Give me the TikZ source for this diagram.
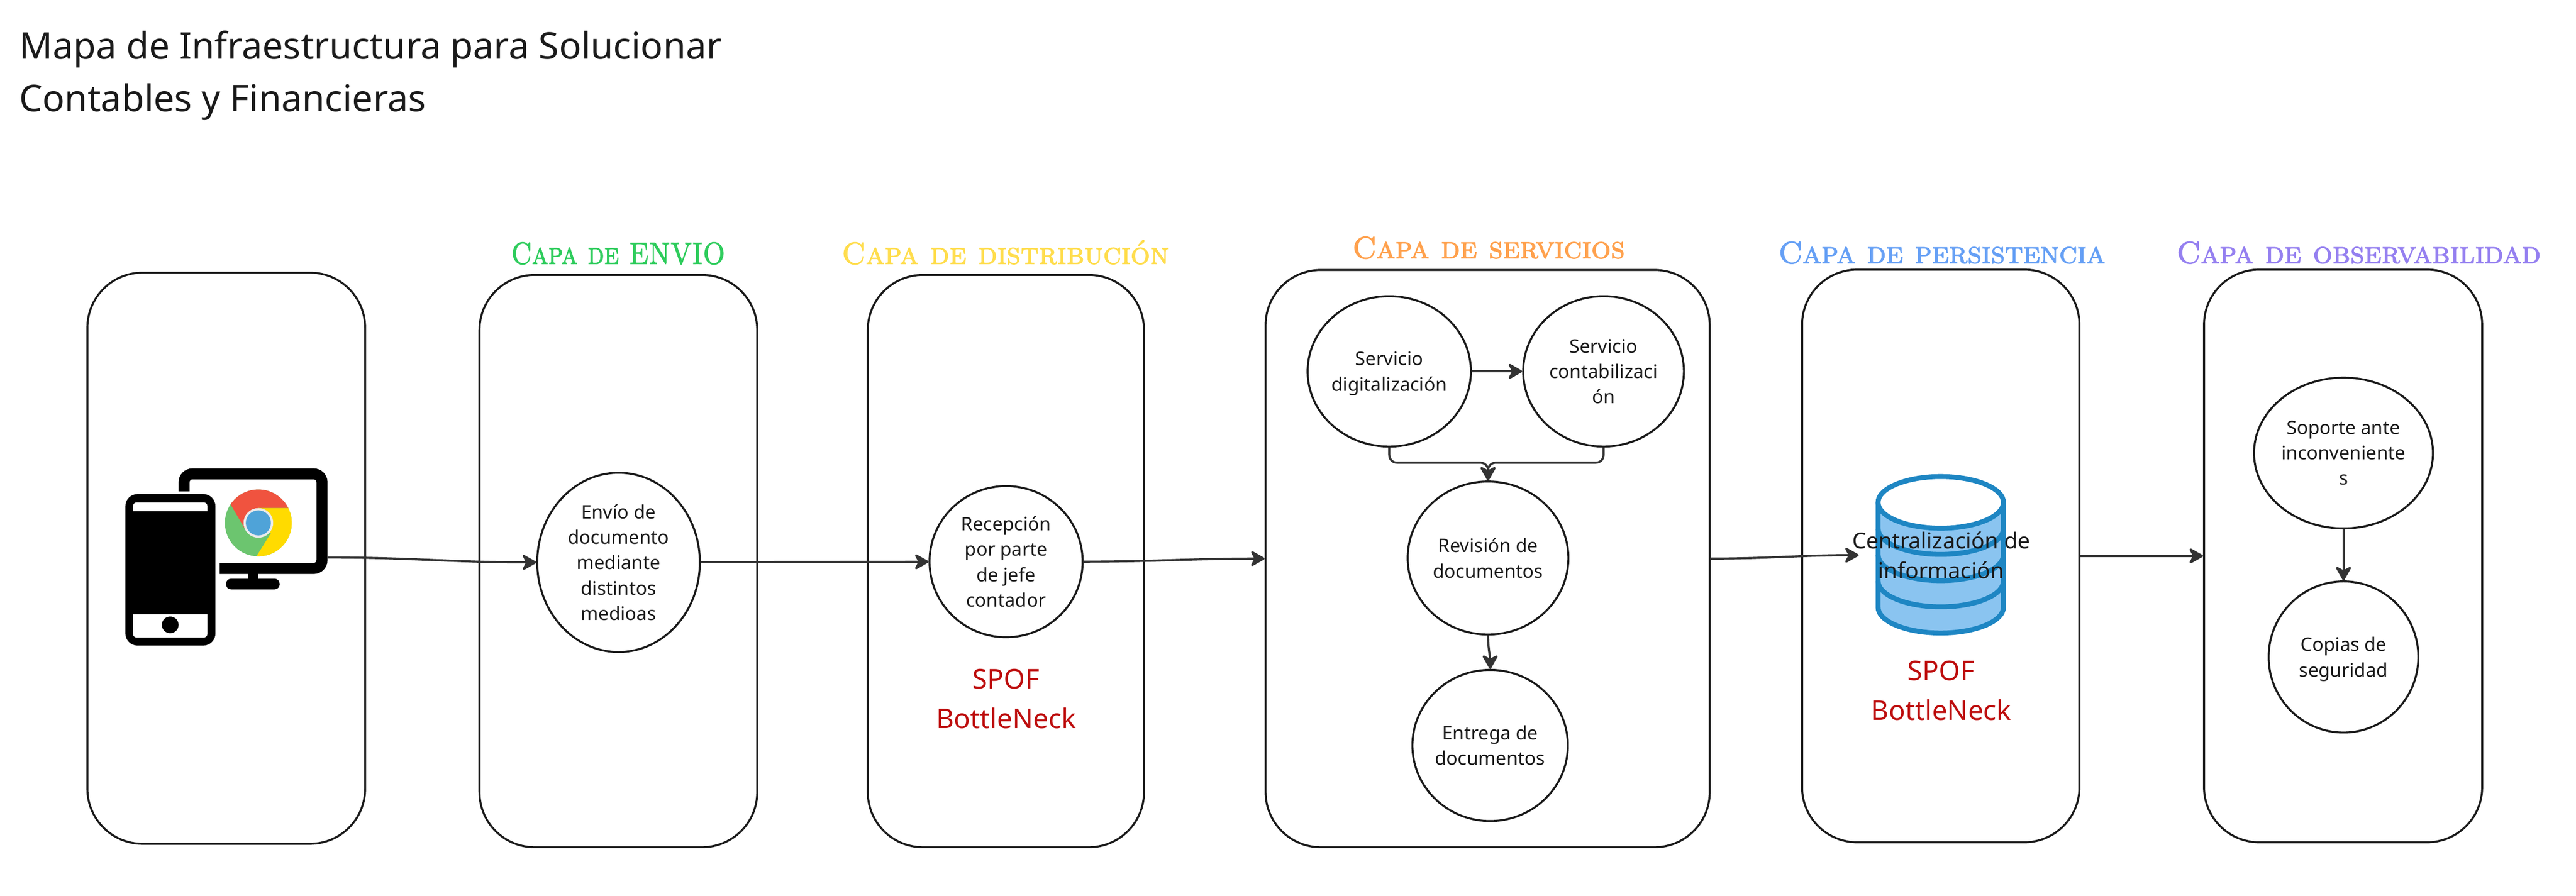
\documentclass[tikz,border=0pt]{standalone}
\usepackage{fontspec}
\setmainfont{Noto Sans}
\newfontfamily\capafont[FakeBold=2.2]{Latin Modern Roman Caps}
\usetikzlibrary{arrows.meta}
\usetikzlibrary{shapes.geometric}
\definecolor{trazo}{HTML}{333333}
\definecolor{letra}{HTML}{1A1A1A}
\definecolor{rojo}{HTML}{BD0D0D}
\definecolor{dbazul}{HTML}{1E86C3}
\definecolor{dbclaro}{HTML}{8AC4F0}
\tikzset{
  capa/.style={draw=letra,line width=1.5pt,rounded corners=1.45cm,inner sep=0pt},
  proceso/.style={draw=letra,line width=1.5pt,ellipse,inner sep=0pt,align=center,text=letra,font=\fontsize{14}{19}\selectfont},
  titulo/.style={anchor=base,font=\capafont\fontsize{23}{27}\selectfont},
  aviso/.style={align=center,text=rojo,font=\fontsize{20.4}{29.7}\selectfont},
  flecha/.style={draw=trazo,line width=1.6pt,-{Stealth[length=12pt,width=13.5pt,inset=3.5pt,round]}}
}
\begin{document}
\begin{tikzpicture}
\useasboundingbox (0,0) rectangle (67.8,23.59);
\node [anchor=west,inner sep=0pt,align=left,text=letra,font=\fontsize{27.6}{39.1}\selectfont] (mapa) at (0.5,21.6) {Mapa de Infraestructura para Solucionar\\Contables y Financieras};
% capas
\node [capa,minimum width=7.31cm,minimum height=15.04cm] (usuarios) at (5.955,8.89) {};
\node [capa,minimum width=7.31cm,minimum height=15.07cm] (envio) at (16.275,8.815) {};
\node [capa,minimum width=7.27cm,minimum height=15.07cm] (distribucion) at (26.475,8.815) {};
\node [capa,minimum width=11.69cm,minimum height=15.2cm] (servicios) at (39.155,8.88) {};
\node [capa,minimum width=7.30cm,minimum height=15.08cm] (persistencia) at (51.08,8.95) {};
\node [capa,minimum width=7.32cm,minimum height=15.08cm] (observabilidad) at (61.67,8.95) {};
\node [titulo,xscale=0.865,text={rgb,255:red,46;green,204;blue,92}] (tenvio) at (16.27,16.64) {Capa de ENVIO};
\node [titulo,text={rgb,255:red,255;green,221;blue,77}] (tdistribucion) at (26.46,16.64) {Capa de distribución};
\node [titulo,text={rgb,255:red,255;green,161;blue,77}] (tservicios) at (39.18,16.79) {Capa de servicios};
\node [titulo,text={rgb,255:red,102;green,160;blue,245}] (tpersistencia) at (51.11,16.66) {Capa de persistencia};
\node [titulo,text={rgb,255:red,149;green,128;blue,240}] (tobservabilidad) at (62.08,16.66) {Capa de observabilidad};
% telefono
\fill [rounded corners=0.32cm] (3.30,6.59) rectangle (5.67,10.58);
\fill [white] (3.50,10.13) [rounded corners=0.1cm] -- (3.50,10.36) -- (5.46,10.36) [sharp corners] -- (5.46,10.13) -- cycle;
\fill [white] (3.50,7.41) [rounded corners=0.1cm] -- (3.50,6.80) -- (5.46,6.80) [sharp corners] -- (5.46,7.41) -- cycle;
\fill (4.48,7.135) circle (0.22);
% monitor
\draw [line width=0.29cm,rounded corners=0.22cm] (4.845,10.65) -- (4.845,11.11) -- (8.475,11.11) -- (8.475,8.62) -- (5.78,8.62);
\fill (6.52,8.35) rectangle (6.80,8.48);
\fill [rounded corners=0.13cm] (5.95,8.07) rectangle (7.36,8.35);
% navegador
\begin{scope}
\clip (6.80,9.82) circle (0.88);
\fill [fill={rgb,255:red,108;green,197;blue,111}] (6.80,9.82) circle (0.88);
\fill [fill={rgb,255:red,240;green,83;blue,63}] (6.80,9.82) -- (6.80,10.21) -- (7.8,10.21) -- (7.8,11) -- (5.5,11) -- (5.9,10.6) -- (6.43,9.69) -- cycle;
\fill [fill={rgb,255:red,255;green,219;blue,0}] (6.80,9.82) -- (6.80,10.21) -- (8,10.21) -- (8,8.7) -- (6.6,8.7) -- (7.13,9.55) -- cycle;
\end{scope}
\fill [white!92!black] (6.80,9.82) circle (0.39);
\fill [fill={rgb,255:red,79;green,163;blue,216}] (6.80,9.82) circle (0.33);
\coordinate (icono) at (8.62,8.91);
% base de datos
\draw [draw=dbazul,fill=dbclaro,line width=0.13cm] (49.43,10.36) -- (49.43,7.60) arc [start angle=180,end angle=360,x radius=1.65,y radius=0.68] -- (52.73,10.36);
\draw [draw=dbazul,fill=white,line width=0.13cm] (51.08,10.36) ellipse [x radius=1.65,y radius=0.68];
\foreach \capay in {9.67,8.98,8.29}
  \draw [draw=dbazul,line width=0.13cm] (49.43,\capay) arc [start angle=180,end angle=360,x radius=1.65,y radius=0.68];
\node [align=center,text=letra,font=\fontsize{16.5}{22.4}\selectfont] (central) at (51.09,8.97) {Centralización de\\información};
\coordinate (dbentrada) at (48.92,8.97);
% procesos
\node [proceso,minimum width=4.28cm,minimum height=4.72cm] (penvio) at (16.28,8.78) {Envío de\\documento\\mediante\\distintos\\medioas};
\node [proceso,minimum width=4.03cm,minimum height=3.98cm] (recepcion) at (26.48,8.80) {Recepción\\por parte\\de jefe\\contador};
\node [proceso,minimum width=4.23cm,minimum height=3.96cm,text depth=0pt] (digital) at (36.565,13.81) {Servicio\\digitalización};
\node [proceso,minimum width=4.23cm,minimum height=3.96cm] (contable) at (42.205,13.81) {Servicio\\contabilizaci\\ón};
\node [proceso,minimum width=4.23cm,minimum height=4.03cm] (revision) at (39.165,8.895) {Revisión de\\documentos};
\node [proceso,minimum width=4.06cm,minimum height=3.98cm] (entrega) at (39.22,3.96) {Entrega de\\documentos};
\node [proceso,minimum width=4.71cm,minimum height=3.97cm] (soporte) at (61.68,11.66) {Soporte ante\\inconveniente\\s};
\node [proceso,minimum width=3.94cm,minimum height=3.98cm,text depth=0pt] (copias) at (61.68,6.29) {Copias de\\seguridad};
\node [aviso] (spofa) at (26.48,5.19) {SPOF\\BottleNeck};
\node [aviso] (spofb) at (51.09,5.41) {SPOF\\BottleNeck};
% conectores
\draw [flecha] (icono) to [out=0,in=180] (penvio);
\draw [flecha] (penvio) -- (recepcion);
\draw [flecha] (recepcion.east) to [out=0,in=180] (servicios.west);
\draw [flecha] (digital) -- (contable);
\draw [flecha,rounded corners=0.2cm] (digital.south) |- ([yshift=0.47cm]revision.north) -- (revision.north);
\draw [flecha,rounded corners=0.2cm] (contable.south) |- ([yshift=0.47cm]revision.north) -- (revision.north);
\draw [flecha] (revision.south) to [out=-90,in=90] (entrega.north);
\draw [flecha] (servicios.east) to [out=0,in=180] (dbentrada);
\draw [flecha] (persistencia.east) -- (observabilidad.west);
\draw [flecha] (soporte) -- (copias);
\end{tikzpicture}
\end{document}
